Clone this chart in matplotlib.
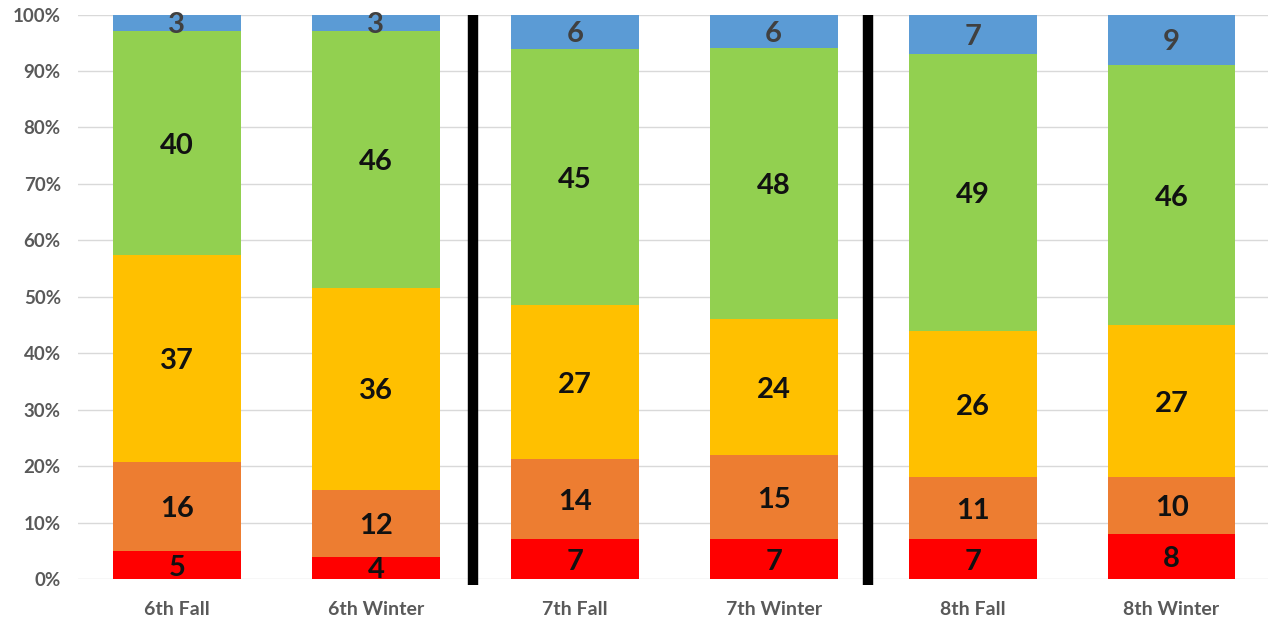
import numpy as np
import matplotlib
matplotlib.use("Agg")
from matplotlib import pyplot as plt

plt.rcParams['font.family'] = ['Lato', 'DejaVu Sans']

categories = ['6th Fall', '6th Winter', '7th Fall', '7th Winter', '8th Fall', '8th Winter']
red = [5, 4, 7, 7, 7, 8]
orange = [16, 12, 14, 15, 11, 10]
yellow = [37, 36, 27, 24, 26, 27]
green = [40, 46, 45, 48, 49, 46]
blue = [3, 3, 6, 6, 7, 9]

series = [red, orange, yellow, green, blue]
colors = ['#FF0000', '#ED7D31', '#FFC000', '#92D050', '#5B9BD5']
label_colors = ['#111111', '#111111', '#111111', '#111111', '#404040']

counts = np.array(series, dtype=float)
pct = counts / counts.sum(axis=0) * 100  # 100% stacked

fig = plt.figure(figsize=(12.68, 6.21), dpi=100)
ax = fig.add_axes([77.5 / 1268, 42 / 621, 1193.5 / 1268, 564.5 / 621])

x = np.arange(len(categories))
bottom = np.zeros(len(categories))
for i in range(len(series)):
    ax.bar(x, pct[i], bottom=bottom, width=0.643, color=colors[i], zorder=2)
    for j in range(len(categories)):
        ax.text(x[j], bottom[j] + pct[i][j] / 2, str(series[i][j]),
                ha='center', va='center_baseline', fontsize=21, fontweight='bold',
                color=label_colors[i], zorder=3)
    bottom += pct[i]

# grade separators
for sx in [1.49, 3.475]:
    ax.plot([sx, sx], [-1.1, 100], color='black', lw=7.5, solid_capstyle='butt',
            clip_on=False, zorder=4)

ax.set_xlim(-0.5, 5.5)
ax.set_ylim(0, 100)
ax.set_yticks(np.arange(0, 101, 10))
ax.set_yticklabels([f'{v}%' for v in range(0, 101, 10)])
ax.set_xticks(x)
ax.set_xticklabels(categories)
ax.yaxis.grid(True, color='#D9D9D9', lw=1, zorder=0)
ax.set_axisbelow(True)
for s in ax.spines.values():
    s.set_visible(False)
ax.tick_params(axis='y', length=0, labelsize=13.5, labelcolor='#595959', pad=12)
ax.tick_params(axis='x', length=0, labelsize=14, labelcolor='#595959', pad=16)
for lbl in ax.get_xticklabels() + ax.get_yticklabels():
    lbl.set_fontweight('bold')

fig.savefig('out.png', dpi=100)
